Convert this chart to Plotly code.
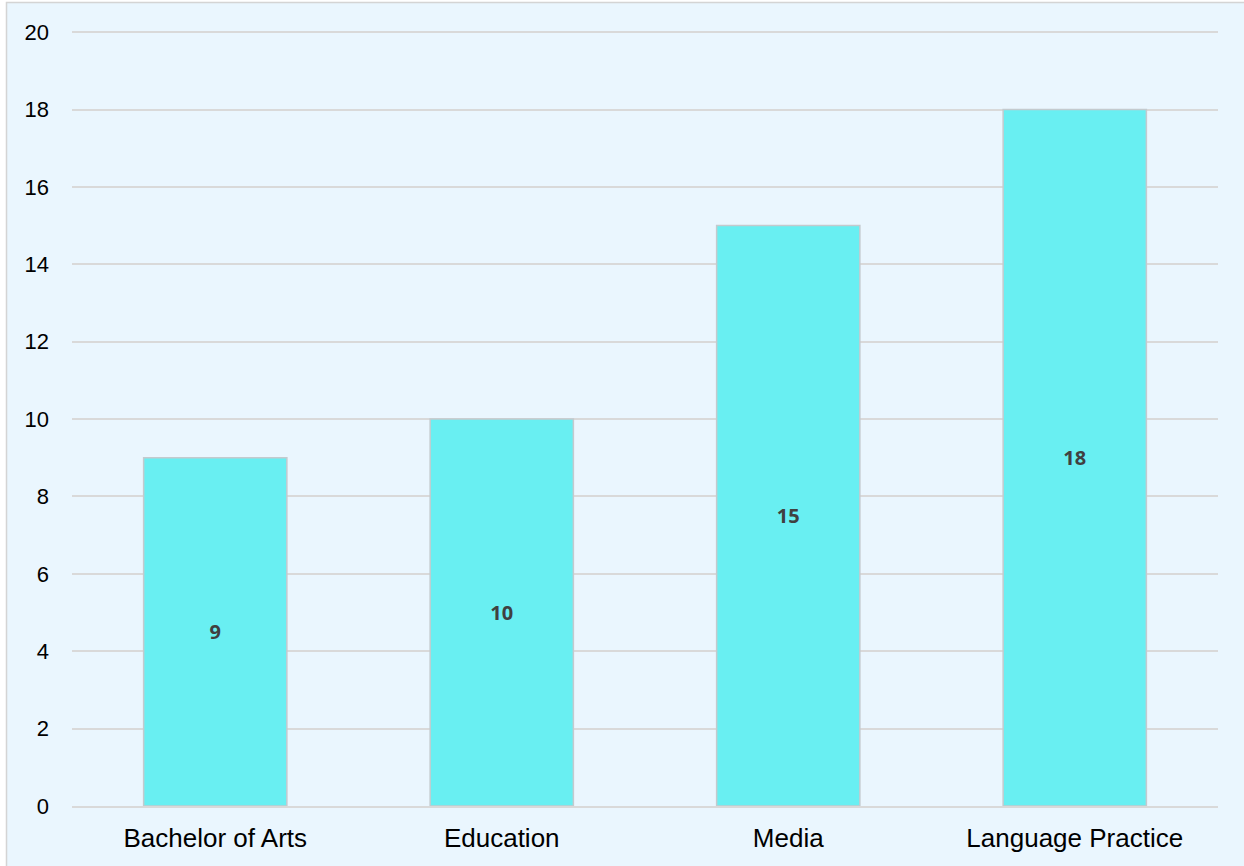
import plotly.graph_objects as go

categories = ["Bachelor of Arts", "Education", "Media", "Language Practice"]
values = [9, 10, 15, 18]
y_ticks = [0, 2, 4, 6, 8, 10, 12, 14, 16, 18, 20]

W, H = 1244, 866
L, R, T, B = 72, 26, 31, 60
pw, ph = W - L - R, H - T - B

def px_x(px):
    return (px - L) / pw

def px_y(py):
    return (H - B - py) / ph

BG = "#EAF6FE"

fig = go.Figure()
fig.add_trace(go.Bar(
    x=categories,
    y=values,
    width=0.5,
    marker=dict(color="#69EFF2", line=dict(color="#C4CACE", width=1.5)),
    text=[str(v) for v in values],
    textposition="inside",
    insidetextanchor="middle",
    textangle=0,
    textfont=dict(family="Open Sans", size=20, color="#404040", weight="bold"),
    hoverinfo="skip",
))

fig.add_shape(type="rect", xref="paper", yref="paper",
              x0=px_x(6.5), x1=px_x(1260), y0=px_y(880), y1=px_y(2.5),
              fillcolor=BG, line=dict(color="#D4D4D4", width=1.5), layer="below")

fig.update_layout(
    width=W, height=H,
    margin=dict(l=L, r=R, t=T, b=B, pad=0),
    paper_bgcolor="white",
    plot_bgcolor=BG,
    showlegend=False,
    font=dict(family="Liberation Sans, Arial", size=24, color="#000000"),
)
fig.update_xaxes(
    showgrid=False, showline=True, linecolor="#D9D9D9", linewidth=2,
    ticks="", tickfont=dict(size=26, color="#000000"), ticklabelstandoff=8,
    fixedrange=True,
)
fig.update_yaxes(
    range=[0, 20.03], tickvals=y_ticks, showgrid=True, gridcolor="#D9D9D9", gridwidth=2,
    zeroline=False, showline=False, ticks="",
    tickfont=dict(size=22, color="#000000"), ticklabelstandoff=22,
    fixedrange=True,
)

fig.write_html("out.html", config={"displayModeBar": False},
               post_script="document.body.style.margin='0';document.body.style.overflow='hidden';")
